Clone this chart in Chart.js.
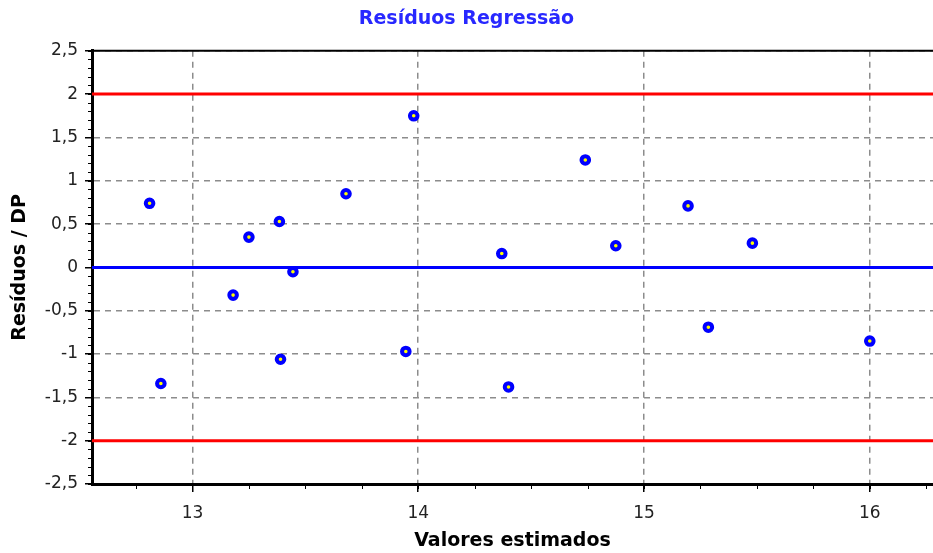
<!DOCTYPE html>
<html>
<head>
<meta charset="utf-8">
<title>Resíduos Regressão</title>
<script src="https://cdn.jsdelivr.net/npm/chart.js@4.4.0/dist/chart.umd.min.js"></script>
<style>
  html, body { margin: 0; padding: 0; background: #fff; overflow: hidden; }
  canvas { display: block; }
</style>
</head>
<body>
<canvas id="residuos" width="933" height="553"></canvas>
<script>
// pontos: valor estimado (x) e resíduo / DP (y)
const valoresEstimados = [12.81, 12.86, 13.18, 13.25, 13.385, 13.39, 13.445, 13.68, 13.945, 13.98,
                          14.37, 14.40, 14.74, 14.875, 15.195, 15.285, 15.48, 16.00];
const residuosDP = [0.74, -1.34, -0.32, 0.35, 0.53, -1.06, -0.05, 0.85, -0.97, 1.75,
                    0.16, -1.38, 1.24, 0.25, 0.71, -0.69, 0.28, -0.85];

// linhas de referência
const limitesDP = [2, -2];
const linhaZero = 0;

// eixos
const xMin = 12.555, xMax = 16.28;
const xTicks = [13, 14, 15, 16];
const yTicks = [-2.5, -2, -1.5, -1, -0.5, 0, 0.5, 1, 1.5, 2, 2.5];

const pontos = valoresEstimados.map((v, i) => ({ x: v, y: residuosDP[i] }));
const horizontal = y => [{ x: xMin, y: y }, { x: xMax, y: y }];

const refLines = limitesDP.map(v => ({
  data: horizontal(v), showLine: true, borderColor: '#ff0000', borderWidth: 3,
  pointRadius: 0, order: 2
}));
refLines.push({
  data: horizontal(linhaZero), showLine: true, borderColor: '#0000ff', borderWidth: 3,
  pointRadius: 0, order: 1
});

// ticks menores e borda superior
const detalhes = {
  id: 'detalhes',
  afterDraw(chart) {
    const { ctx, chartArea: a, scales: { x, y } } = chart;
    ctx.save();
    ctx.strokeStyle = '#000';
    ctx.lineWidth = 1;
    ctx.beginPath();
    for (let v = -2.5; v <= 2.5001; v += 0.1) {
      const py = Math.round(y.getPixelForValue(v)) + 0.5;
      ctx.moveTo(a.left - 4, py);
      ctx.lineTo(a.left, py);
    }
    for (let v = 12.75; v <= xMax; v += 0.25) {
      const px = Math.round(x.getPixelForValue(v)) + 0.5;
      ctx.moveTo(px, a.bottom);
      ctx.lineTo(px, a.bottom + 5);
    }
    ctx.stroke();
    ctx.lineWidth = 2;
    ctx.beginPath();
    ctx.moveTo(a.left, a.top);
    ctx.lineTo(a.right, a.top);
    ctx.stroke();
    ctx.restore();
  }
};

const grade = { color: '#8c8c8c', lineWidth: 1.5, tickColor: '#000', tickWidth: 1.5, tickBorderDash: [] };

new Chart(document.getElementById('residuos').getContext('2d'), {
  type: 'scatter',
  data: {
    datasets: [{
      data: pontos,
      pointRadius: 3.8,
      pointHoverRadius: 3.8,
      pointBackgroundColor: '#ffff00',
      pointBorderColor: '#0000ff',
      pointBorderWidth: 4,
      order: 0
    }].concat(refLines)
  },
  options: {
    responsive: false,
    animation: false,
    layout: { padding: 0, autoPadding: false },
    plugins: {
      legend: { display: false },
      tooltip: { enabled: false },
      title: {
        display: true,
        text: 'Resíduos Regressão',
        color: '#2828ff',
        font: { family: 'DejaVu Sans', size: 19, weight: 'bold' },
        padding: { top: 8, bottom: 20 }
      }
    },
    scales: {
      x: {
        type: 'linear',
        min: xMin,
        max: xMax,
        afterBuildTicks: s => { s.ticks = xTicks.map(v => ({ value: v })); },
        afterFit: s => { s.height = 69; s.paddingLeft = 0; s.paddingRight = 0; },
        grid: Object.assign({ tickLength: 8 }, grade),
        border: { color: '#000', width: 3, dash: [6, 5] },
        ticks: {
          color: '#222',
          padding: 11,
          maxRotation: 0,
          font: { family: 'DejaVu Sans', size: 17 }
        },
        title: {
          display: true,
          text: 'Valores estimados',
          color: '#000',
          font: { family: 'DejaVu Sans', size: 19, weight: 'bold' },
          padding: { top: 0, bottom: 1 }
        }
      },
      y: {
        type: 'linear',
        min: -2.5,
        max: 2.5,
        afterBuildTicks: s => { s.ticks = yTicks.map(v => ({ value: v })); },
        afterFit: s => { s.width = 92; s.paddingTop = 0; s.paddingBottom = 0; },
        grid: Object.assign({ tickLength: 7 }, grade),
        border: { color: '#000', width: 3, dash: [6, 5] },
        ticks: {
          color: '#222',
          padding: 7,
          font: { family: 'DejaVu Sans', size: 17 },
          callback: v => String(v).replace('.', ',')
        },
        title: {
          display: true,
          text: 'Resíduos / DP',
          color: '#000',
          font: { family: 'DejaVu Sans', size: 19, weight: 'bold' },
          padding: { top: 9, bottom: 0 }
        }
      }
    }
  },
  plugins: [detalhes]
});
</script>
</body>
</html>
